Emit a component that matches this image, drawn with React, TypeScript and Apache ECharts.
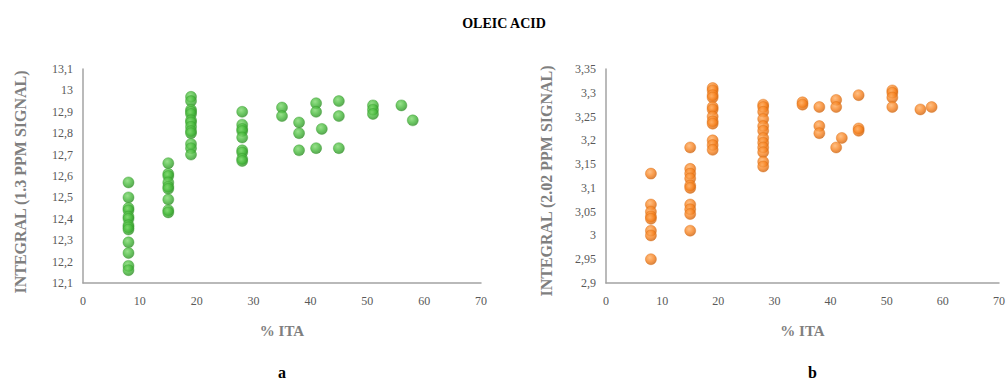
import React, { useEffect, useRef } from "react";
import * as echarts from "echarts";

// % ITA levels (x values shared by both panels)
const ITA = [8, 15, 19, 28, 35, 38, 41, 42, 45, 51, 56, 58];

// Panel a: integral of 1.3 ppm signal, one array per ITA level
const s13_ITA8 = [12.57, 12.5, 12.45, 12.44, 12.41, 12.4, 12.37, 12.36, 12.35, 12.29, 12.24, 12.18, 12.16];
const s13_ITA15 = [12.66, 12.61, 12.6, 12.57, 12.55, 12.54, 12.49, 12.44, 12.43];
const s13_ITA19 = [12.97, 12.95, 12.91, 12.9, 12.89, 12.86, 12.85, 12.83, 12.81, 12.8, 12.75, 12.73, 12.7];
const s13_ITA28 = [12.9, 12.84, 12.82, 12.81, 12.78, 12.72, 12.71, 12.68, 12.67];
const s13_ITA35 = [12.92, 12.88];
const s13_ITA38 = [12.85, 12.8, 12.72];
const s13_ITA41 = [12.94, 12.9, 12.73];
const s13_ITA42 = [12.82];
const s13_ITA45 = [12.95, 12.88, 12.73];
const s13_ITA51 = [12.93, 12.91, 12.89];
const s13_ITA56 = [12.93];
const s13_ITA58 = [12.86];
const s13Groups = [s13_ITA8, s13_ITA15, s13_ITA19, s13_ITA28, s13_ITA35, s13_ITA38, s13_ITA41, s13_ITA42, s13_ITA45, s13_ITA51, s13_ITA56, s13_ITA58];

// Panel b: integral of 2.02 ppm signal
const s202_ITA8 = [3.13, 3.065, 3.05, 3.04, 3.035, 3.01, 3.0, 2.95];
const s202_ITA15 = [3.185, 3.14, 3.13, 3.12, 3.105, 3.1, 3.065, 3.055, 3.045, 3.01];
const s202_ITA19 = [3.31, 3.305, 3.295, 3.29, 3.27, 3.265, 3.25, 3.24, 3.235, 3.2, 3.19, 3.18];
const s202_ITA28 = [3.275, 3.27, 3.26, 3.245, 3.23, 3.22, 3.205, 3.195, 3.185, 3.175, 3.155, 3.145];
const s202_ITA35 = [3.28, 3.275];
const s202_ITA38 = [3.27, 3.23, 3.215];
const s202_ITA41 = [3.285, 3.27, 3.185];
const s202_ITA42 = [3.205];
const s202_ITA45 = [3.295, 3.225, 3.22];
const s202_ITA51 = [3.305, 3.3, 3.29, 3.27];
const s202_ITA56 = [3.265];
const s202_ITA58 = [3.27];
const s202Groups = [s202_ITA8, s202_ITA15, s202_ITA19, s202_ITA28, s202_ITA35, s202_ITA38, s202_ITA41, s202_ITA42, s202_ITA45, s202_ITA51, s202_ITA56, s202_ITA58];

const TITLE = "OLEIC ACID";
const X_NAME = "% ITA";
const Y_NAME_A = "INTEGRAL (1.3 PPM SIGNAL)";
const Y_NAME_B = "INTEGRAL (2.02 PPM SIGNAL)";
const PANEL_LABELS = ["a", "b"];

const toPairs = (groups: number[][]) => {
  const out: number[][] = [];
  groups.forEach((g, i) => g.forEach((v) => out.push([ITA[i], v])));
  return out;
};

const FONT = "'Liberation Serif', 'DejaVu Serif', serif";
const AXIS_GRAY = "#a3a3a3";
const LABEL_GRAY = "#595959";
const NAME_GRAY = "#7f7f7f";

const fmt = (v: number) => String(Number(v.toFixed(3))).replace(".", ",");

const ball = (light: string, mid: string, dark: string) => ({
  type: "radial",
  x: 0.4,
  y: 0.35,
  r: 0.7,
  colorStops: [
    { offset: 0, color: light },
    { offset: 0.55, color: mid },
    { offset: 1, color: dark },
  ],
});

export default function App() {
  const ref = useRef<HTMLDivElement>(null);
  useEffect(() => {
    if (!ref.current) return;
    const chart = echarts.init(ref.current, undefined, { renderer: "svg" });
    const xAxisBase = (gridIndex: number) => ({
      gridIndex,
      type: "value",
      min: 0,
      max: 70,
      interval: 10,
      name: X_NAME,
      nameLocation: "middle",
      nameGap: 40,
      nameTextStyle: { fontFamily: FONT, fontSize: 15, fontWeight: "bold", color: NAME_GRAY },
      axisLine: { show: true, lineStyle: { color: AXIS_GRAY, width: 1.5 } },
      axisTick: { show: false },
      splitLine: { show: false },
      axisLabel: { fontFamily: FONT, fontSize: 12, color: LABEL_GRAY, margin: 12 },
    });
    const yAxisBase = (gridIndex: number, min: number, max: number, interval: number) => ({
      gridIndex,
      type: "value",
      min,
      max,
      interval,
      axisLine: { show: true, lineStyle: { color: AXIS_GRAY, width: 1.5 } },
      axisTick: { show: false },
      splitLine: { show: false },
      axisLabel: { fontFamily: FONT, fontSize: 12, color: LABEL_GRAY, margin: 10, formatter: fmt },
    });
    const yName = (text: string, x: number, y: number) => ({
      type: "text",
      x,
      y,
      rotation: Math.PI / 2,
      style: {
        text,
        font: `bold 16px ${FONT}`,
        fill: NAME_GRAY,
        align: "center",
        verticalAlign: "middle",
      },
    });
    chart.setOption({
      animation: false,
      backgroundColor: "#ffffff",
      title: {
        text: TITLE,
        left: "center",
        top: 11,
        textStyle: { fontFamily: FONT, fontSize: 14, fontWeight: "bold", color: "#000" },
      },
      grid: [
        { left: 83, top: 69, width: 398, height: 214 },
        { left: 606, top: 69, width: 397, height: 214 },
      ],
      xAxis: [xAxisBase(0), xAxisBase(1)],
      yAxis: [yAxisBase(0, 12.1, 13.1, 0.1), yAxisBase(1, 2.9, 3.35, 0.05)],
      series: [
        {
          type: "scatter",
          xAxisIndex: 0,
          yAxisIndex: 0,
          symbolSize: 11,
          data: toPairs(s13Groups),
          itemStyle: { color: ball("#7fd96f", "#45b83a", "#2e8a26"), borderColor: "#3a9a30", borderWidth: 0.5 },
        },
        {
          type: "scatter",
          xAxisIndex: 1,
          yAxisIndex: 1,
          symbolSize: 11,
          data: toPairs(s202Groups),
          itemStyle: { color: ball("#ffb066", "#f7821f", "#c9600e"), borderColor: "#d96d14", borderWidth: 0.5 },
        },
      ],
      graphic: [
        yName(Y_NAME_A, 20, 182),
        yName(Y_NAME_B, 546, 181),
        {
          type: "text",
          left: 278,
          top: 364,
          style: { text: PANEL_LABELS[0], font: `bold 16px ${FONT}`, fill: "#000" },
        },
        {
          type: "text",
          left: 808,
          top: 364,
          style: { text: PANEL_LABELS[1], font: `bold 16px ${FONT}`, fill: "#000" },
        },
      ],
    });
    return () => chart.dispose();
  }, []);
  return (
    <div
      ref={ref}
      style={{ position: "absolute", left: 0, top: 0, width: 1008, height: 380, background: "#fff" }}
    />
  );
}
